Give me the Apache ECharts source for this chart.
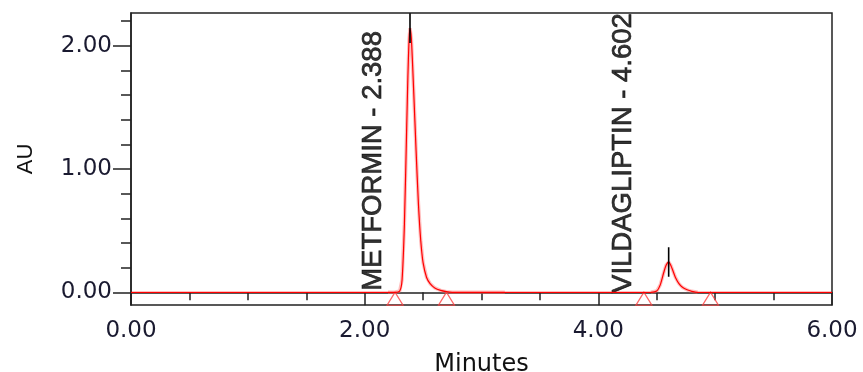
<!DOCTYPE html>
<html>
<head>
<meta charset="utf-8">
<script src="https://cdn.jsdelivr.net/npm/echarts@6/dist/echarts.min.js"></script>
<style>
html,body{margin:0;padding:0;background:#fff;}
#chart{width:863px;height:372px;}
</style>
</head>
<body>
<div id="chart"></div>
<script>
// ---- Data ----
var times = [0, 2.20, 2.26, 2.30, 2.32, 2.34, 2.36, 2.37, 2.38, 2.388, 2.40, 2.42, 2.44, 2.46, 2.48, 2.50, 2.53, 2.56, 2.60, 2.65, 2.70, 2.75, 3.20,
             4.45, 4.50, 4.53, 4.56, 4.58, 4.602, 4.62, 4.64, 4.66, 4.69, 4.72, 4.76, 4.80, 4.85, 6.00];
var au    = [0, 0, 0, 0.01, 0.10, 0.55, 1.35, 1.75, 2.05, 2.14, 2.05, 1.62, 1.15, 0.72, 0.42, 0.24, 0.12, 0.07, 0.035, 0.015, 0.005, 0, 0,
             0, 0.01, 0.06, 0.16, 0.22, 0.245, 0.22, 0.17, 0.12, 0.07, 0.04, 0.02, 0.008, 0, 0];
var peakNames   = ['METFORMIN', 'VILDAGLIPTIN'];
var peakTimes   = [2.388, 4.602];
var peakHeights = [2.14, 0.245];
var baselineMarks = [2.26, 2.70, 4.39, 4.96];
var xTicks = [0, 2, 4, 6];
var yTicks = [0, 1, 2];
var yMinorTop = 2.2;

// ---- Build series data ----
var trace = times.map(function (t, i) { return [t, au[i]]; });
var halo1 = trace.filter(function (p) { return p[0] >= 2.2 && p[0] <= 3.2; });
var halo2 = trace.filter(function (p) { return p[0] >= 4.45 && p[0] <= 4.85; });
var labelShift = [0.316, 0.39];
var labelBase = [0.012, -0.005];

var series = [
  { type: 'line', xAxisIndex: 0, yAxisIndex: 0, data: halo1, showSymbol: false, silent: true,
    lineStyle: { color: 'rgba(255,110,110,0.45)', width: 3.5 } },
  { type: 'line', xAxisIndex: 0, yAxisIndex: 0, data: halo2, showSymbol: false, silent: true,
    lineStyle: { color: 'rgba(255,110,110,0.45)', width: 3.5 } },
  { type: 'line', xAxisIndex: 0, yAxisIndex: 0, data: trace, showSymbol: false, smooth: 0.25,
    lineStyle: { color: '#ff0000', width: 1.2 } },
  { type: 'scatter', xAxisIndex: 0, yAxisIndex: 0, clip: false,
    data: baselineMarks.map(function (t) { return [t, 0]; }),
    symbol: 'triangle', symbolSize: [16, 13], symbolOffset: [0, 6.5],
    itemStyle: { color: 'rgba(0,0,0,0)', borderColor: '#ff4040', borderWidth: 1.2 } }
];
peakTimes.forEach(function (t, i) {
  series.push({ type: 'line', xAxisIndex: 0, yAxisIndex: 0, showSymbol: false,
    data: [[t, peakHeights[i] - 0.12], [t, peakHeights[i] + 0.12]],
    lineStyle: { color: '#000', width: 1.6 } });
  series.push({ type: 'scatter', xAxisIndex: 0, yAxisIndex: 0, symbolSize: 0, clip: false,
    data: [[t - labelShift[i], labelBase[i]]],
    label: { show: true, position: [0, 0], rotate: 90, align: 'left', verticalAlign: 'middle',
      formatter: peakNames[i] + ' - ' + t.toFixed(3),
      fontFamily: "'Liberation Sans', Arial, sans-serif",
      fontSize: 27.5, color: '#000', textBorderColor: '#000', textBorderWidth: 0.7 } });
});

var tickFont = "'DejaVu Sans', sans-serif";
var pxPerUnit = 123.3;      // vertical scale of the reference plot
var zeroY = 292.3;          // pixel row of 0 AU
var tickStyle = { color: '#222', width: 1.5 };
var option = {
  animation: false,
  backgroundColor: '#fff',
  grid: [
    { left: 131, right: 31, top: 13, bottom: 67, outerBoundsMode: 'none', containLabel: false,
      show: true, borderColor: '#222', borderWidth: 1.5, backgroundColor: 'transparent' },
    { left: 131, right: 31, top: zeroY - yTicks[yTicks.length - 1] * pxPerUnit, bottom: 372 - zeroY, outerBoundsMode: 'none', containLabel: false },
    { left: 131, right: 31, top: zeroY - yMinorTop * pxPerUnit, bottom: 372 - zeroY, outerBoundsMode: 'none', containLabel: false }
  ],
  xAxis: [
    { gridIndex: 0, type: 'value', min: xTicks[0], max: xTicks[xTicks.length - 1], interval: 2,
      name: 'Minutes', nameLocation: 'middle', nameGap: 48,
      nameTextStyle: { fontFamily: tickFont, fontSize: 24, color: '#111' },
      axisLine: { show: true, lineStyle: { color: '#222', width: 1.5 } },
      axisTick: { show: true, length: 13, lineStyle: tickStyle },
      minorTick: { show: true, splitNumber: 4, length: 8, lineStyle: tickStyle },
      splitLine: { show: false },
      axisLabel: { margin: 15, fontFamily: tickFont, fontSize: 23, color: '#1a1a30',
        formatter: function (v) { return v.toFixed(2); } } },
    { gridIndex: 1, type: 'value', min: 0, max: 6, show: false },
    { gridIndex: 2, type: 'value', min: 0, max: 6, show: false }
  ],
  yAxis: [
    { gridIndex: 0, type: 'value', min: -0.103, max: 2.263,
      name: 'AU', nameLocation: 'middle', nameGap: 94, nameRotate: 90,
      nameTextStyle: { fontFamily: "'Liberation Sans', sans-serif", fontSize: 22, color: '#111' },
      axisLine: { show: true, onZero: false, lineStyle: { color: '#222', width: 1.5 } },
      axisTick: { show: false }, axisLabel: { show: false }, splitLine: { show: false } },
    { gridIndex: 1, type: 'value', min: yTicks[0], max: yTicks[yTicks.length - 1], interval: 1,
      axisLine: { show: false },
      axisTick: { show: true, length: 18, lineStyle: tickStyle },
      splitLine: { show: false },
      axisLabel: { margin: 19, fontFamily: tickFont, fontSize: 23, color: '#1a1a30',
        formatter: function (v) { return v.toFixed(2); } } },
    { gridIndex: 2, type: 'value', min: 0, max: yMinorTop, interval: 0.2,
      axisLine: { show: false },
      axisTick: { show: true, length: 10, lineStyle: tickStyle },
      splitLine: { show: false },
      axisLabel: { show: false } }
  ],
  series: series
};
var chart = echarts.init(document.getElementById('chart'), null, { renderer: 'canvas' });
chart.setOption(option);
</script>
</body>
</html>
